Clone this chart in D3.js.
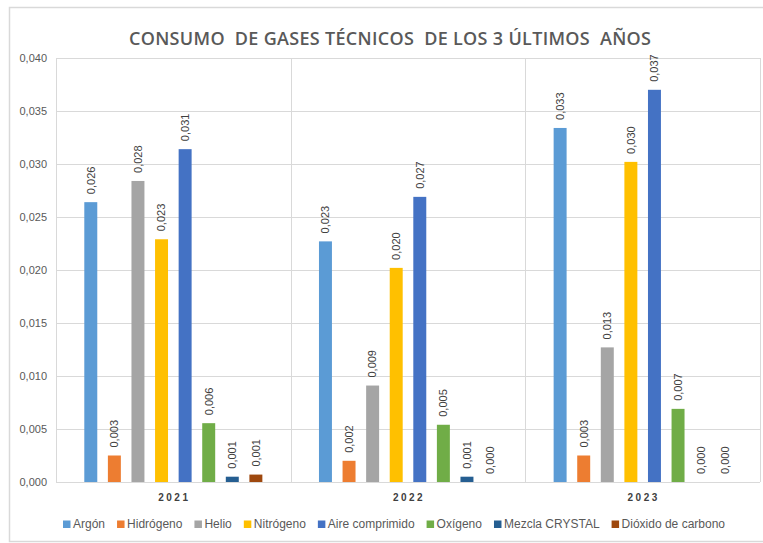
<!DOCTYPE html>
<html><head><meta charset="utf-8">
<script src="https://cdn.jsdelivr.net/npm/d3@7/dist/d3.min.js"></script>
<style>body{margin:0;background:#fff}svg{display:block}</style>
</head><body>
<svg id="c" width="763" height="543"></svg>
<script>
const years = ["2021", "2022", "2023"];
const gases = ["Argón", "Hidrógeno", "Helio", "Nitrógeno", "Aire comprimido", "Oxígeno", "Mezcla CRYSTAL", "Dióxido de carbono"];
const colors = ["#5B9BD5", "#ED7D31", "#A5A5A5", "#FFC000", "#4472C4", "#70AD47", "#255E91", "#9E480E"];
const values2021 = [0.0264, 0.0025, 0.0284, 0.0229, 0.0314, 0.00555, 0.0005, 0.0007];
const values2022 = [0.0227, 0.0020, 0.0091, 0.0202, 0.0269, 0.0054, 0.0005, 0.0000];
const values2023 = [0.0334, 0.0025, 0.0127, 0.0302, 0.0370, 0.0069, 0.0000, 0.0000];
const yTicks = [0, 0.005, 0.010, 0.015, 0.020, 0.025, 0.030, 0.035, 0.040];
const title = "CONSUMO  DE GASES TÉCNICOS  DE LOS 3 ÚLTIMOS  AÑOS";
const series = [values2021, values2022, values2023];

const svg = d3.select("#c");
const font = "'Liberation Sans', Arial, sans-serif";
const fmt = v => d3.format(".3f")(v).replace(".", ",");

// outer border
svg.append("rect").attr("x", 9.5).attr("y", 7.5).attr("width", 760).attr("height", 534)
  .attr("fill", "#fff").attr("stroke", "#d9d9d9").attr("stroke-width", 1.5);

const L = 56, R = 760, T = 58, B = 482;
const x0 = d3.scaleBand().domain(years).range([L, R]).padding(0);
const x1 = d3.scaleBand().domain(gases).range([0, x0.bandwidth()]).paddingInner(0.45).paddingOuter(1.2);
const y = d3.scaleLinear().domain([0, 0.04]).range([B, T]);

// grid
svg.append("g").selectAll("line").data(yTicks).join("line")
  .attr("x1", L).attr("x2", R).attr("y1", d => Math.round(y(d)) + 0.5).attr("y2", d => Math.round(y(d)) + 0.5)
  .attr("stroke", "#d9d9d9").attr("stroke-width", 1);
svg.append("g").selectAll("line").data([L, ...years.map(d => x0(d) + x0.bandwidth())]).join("line")
  .attr("x1", d => Math.round(d) + 0.5).attr("x2", d => Math.round(d) + 0.5).attr("y1", T).attr("y2", B)
  .attr("stroke", "#d9d9d9").attr("stroke-width", 1);

// y axis labels
svg.append("g").selectAll("text").data(yTicks).join("text")
  .attr("x", 47).attr("y", d => y(d)).attr("dy", "0.35em").attr("text-anchor", "end")
  .attr("font-family", font).attr("font-size", 11).attr("fill", "#595959").text(fmt);

// bars
const flat = [];
years.forEach((yr, i) => gases.forEach((g, j) => flat.push({yr, g, j, v: series[i][j]})));
svg.append("g").selectAll("rect").data(flat).join("rect")
  .attr("x", d => x0(d.yr) + x1(d.g)).attr("width", x1.bandwidth())
  .attr("y", d => y(d.v)).attr("height", d => B - y(d.v))
  .attr("fill", d => colors[d.j]);

// data labels
svg.append("g").selectAll("text").data(flat).join("text")
  .attr("transform", d => `translate(${x0(d.yr) + x1(d.g) + x1.bandwidth() / 2},${y(d.v) - 8}) rotate(-90)`)
  .attr("dy", "0.35em").attr("text-anchor", "start")
  .attr("font-family", font).attr("font-size", 11).attr("fill", "#404040").text(d => fmt(d.v));

// category labels
svg.append("g").selectAll("text").data(years).join("text")
  .attr("x", d => x0(d) + x0.bandwidth() / 2 + 1).attr("y", 501).attr("text-anchor", "middle")
  .attr("font-family", font).attr("font-size", 10).attr("font-weight", "bold")
  .attr("letter-spacing", "2.5px").attr("fill", "#404040").text(d => d);

// title
svg.append("text").attr("x", 390).attr("y", 45).attr("text-anchor", "middle")
  .attr("font-family", "'Open Sans', sans-serif").attr("font-size", 18).attr("font-weight", 600)
  .attr("fill", "#595959").attr("textLength", 522).attr("lengthAdjust", "spacing")
  .style("white-space", "pre").text(title);

// legend
const lg = svg.append("g");
const items = lg.selectAll("g").data(gases).join("g");
items.append("rect").attr("width", 7.5).attr("height", 7.5).attr("y", -7.5).attr("fill", (d, i) => colors[i]);
items.append("text").attr("x", 10).attr("font-family", font).attr("font-size", 12)
  .attr("fill", "#595959").text(d => d);
const widths = [];
items.each(function () { widths.push(10 + this.querySelector("text").getComputedTextLength()); });
const totalW = d3.sum(widths);
const start = 63, end = 725;
const gap = (end - start - totalW) / (gases.length - 1);
let cx = start;
items.attr("transform", (d, i) => { const t = `translate(${cx},528)`; cx += widths[i] + gap; return t; });
</script>
</body></html>
